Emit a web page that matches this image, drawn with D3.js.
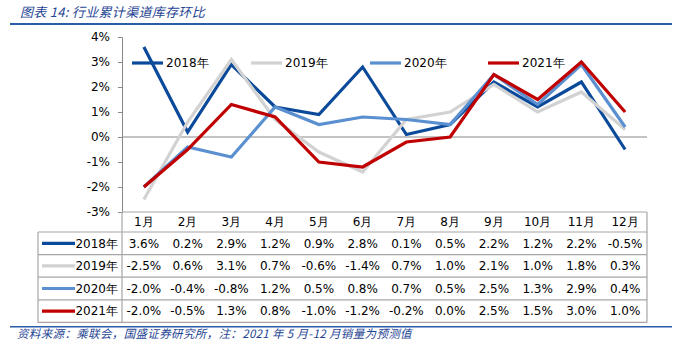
<!DOCTYPE html>
<html>
<head>
<meta charset="utf-8">
<script src="https://cdn.jsdelivr.net/npm/d3@7"></script>
<style>
  body { margin: 0; background: #fff; }
  svg { display: block; }
</style>
</head>
<body>
<div id="chart"></div>
<script>
const months = ["1月", "2月", "3月", "4月", "5月", "6月", "7月", "8月", "9月", "10月", "11月", "12月"];
const seriesNames = ["2018年", "2019年", "2020年", "2021年"];
const v2018 = [3.6, 0.2, 2.9, 1.2, 0.9, 2.8, 0.1, 0.5, 2.2, 1.2, 2.2, -0.5];
const v2019 = [-2.5, 0.6, 3.1, 0.7, -0.6, -1.4, 0.7, 1.0, 2.1, 1.0, 1.8, 0.3];
const v2020 = [-2.0, -0.4, -0.8, 1.2, 0.5, 0.8, 0.7, 0.5, 2.5, 1.3, 2.9, 0.4];
const v2021 = [-2.0, -0.5, 1.3, 0.8, -1.0, -1.2, -0.2, 0.0, 2.5, 1.5, 3.0, 1.0];
const yTicks = [4, 3, 2, 1, 0, -1, -2, -3];
const colors = ["#0b4a9a", "#d2d2d2", "#5a8fd0", "#c00000"];

const series = seriesNames.map((name, i) => ({
  name,
  values: [v2018, v2019, v2020, v2021][i],
  color: colors[i]
}));

const W = 678, H = 341;
const plot = { left: 122, right: 647, top: 37, bottom: 212 };
const navy = "#1f4594";
const numFont = "'DejaVu Sans', Verdana, sans-serif";

const svg = d3.select("#chart").append("svg")
  .attr("width", W)
  .attr("height", H);

// header + footer
svg.append("text")
  .attr("x", 20).attr("y", 17)
  .attr("fill", navy)
  .attr("font-family", "'Noto Sans CJK SC', sans-serif")
  .attr("font-style", "italic")
  .attr("font-size", 13)
  .attr("letter-spacing", 0.3)
  .text("图表 14:  行业累计渠道库存环比");
svg.append("rect").attr("x", 10).attr("y", 23).attr("width", 662).attr("height", 2).attr("fill", "#2a5da8");
svg.append("rect").attr("x", 10).attr("y", 326).attr("width", 662).attr("height", 1.5).attr("fill", "#2a5da8");
svg.append("text")
  .attr("x", 17).attr("y", 338)
  .attr("fill", navy)
  .attr("font-family", "'Noto Sans CJK SC', sans-serif")
  .attr("font-style", "italic")
  .attr("font-size", 11.5)
  .attr("letter-spacing", 0.35)
  .text("资料来源：乘联会，国盛证券研究所，注：2021 年 5 月-12 月销量为预测值");

const x = d3.scaleBand().domain(months).range([plot.left, plot.right]);
const y = d3.scaleLinear().domain([-3, 4]).range([plot.bottom, plot.top]);

// y axis
const yAxis = svg.append("g")
  .attr("transform", `translate(${plot.left},0)`)
  .call(d3.axisLeft(y).tickValues(yTicks).tickSize(4).tickPadding(8).tickFormat(d => d + "%"));
yAxis.select(".domain").attr("stroke", "#888");
yAxis.selectAll(".tick line").attr("stroke", "#888");
yAxis.selectAll("text")
  .attr("font-family", numFont)
  .attr("font-size", 12)
  .attr("fill", "#000");

// zero line
svg.append("line")
  .attr("x1", plot.left).attr("x2", plot.right)
  .attr("y1", y(0)).attr("y2", y(0))
  .attr("stroke", "#888").attr("stroke-width", 1);

const line = d3.line()
  .x((d, i) => x(months[i]) + x.bandwidth() / 2)
  .y(d => y(d));

svg.append("g")
  .selectAll("path")
  .data(series)
  .join("path")
  .attr("fill", "none")
  .attr("stroke", d => d.color)
  .attr("stroke-width", 3.2)
  .attr("stroke-linejoin", "miter")
  .attr("d", d => line(d.values));

// legend inside the plot
const legendX = [132, 251, 370, 488];
const legend = svg.append("g")
  .selectAll("g")
  .data(series)
  .join("g")
  .attr("transform", (d, i) => `translate(${legendX[i]},63)`);
legend.append("line")
  .attr("x1", 0).attr("x2", 31)
  .attr("stroke", d => d.color)
  .attr("stroke-width", 3.2);
legend.append("text")
  .attr("x", 34).attr("dy", "0.35em")
  .attr("font-family", numFont)
  .attr("font-size", 12)
  .text(d => d.name);

// data table under the axis
const tableLeft = 38;
const headH = 20, rowH = 22.6;
const rowY = i => plot.bottom + headH + i * rowH;
const grid = svg.append("g").attr("stroke", "#a6a6a6").attr("stroke-width", 1.2);
grid.append("line").attr("x1", plot.left).attr("x2", plot.right).attr("y1", plot.bottom).attr("y2", plot.bottom);
d3.range(series.length + 1).forEach(i => {
  grid.append("line").attr("x1", tableLeft).attr("x2", plot.right).attr("y1", rowY(i)).attr("y2", rowY(i));
});
grid.append("line").attr("x1", plot.left).attr("x2", plot.left).attr("y1", plot.bottom).attr("y2", rowY(series.length));
grid.append("line").attr("x1", plot.right).attr("x2", plot.right).attr("y1", plot.bottom).attr("y2", rowY(series.length));
grid.append("line").attr("x1", tableLeft).attr("x2", tableLeft).attr("y1", rowY(0)).attr("y2", rowY(series.length));

svg.append("g")
  .selectAll("text")
  .data(months)
  .join("text")
  .attr("x", d => x(d) + x.bandwidth() / 2)
  .attr("y", plot.bottom + headH / 2)
  .attr("dy", "0.35em")
  .attr("text-anchor", "middle")
  .attr("font-family", numFont)
  .attr("font-size", 12)
  .text(d => d);

const rows = svg.append("g")
  .selectAll("g")
  .data(series)
  .join("g")
  .attr("transform", (d, i) => `translate(0,${rowY(i) + rowH / 2})`);
rows.append("line")
  .attr("x1", 42).attr("x2", 75)
  .attr("stroke", d => d.color)
  .attr("stroke-width", 3.2);
rows.append("text")
  .attr("x", 118).attr("dy", "0.35em")
  .attr("text-anchor", "end")
  .attr("font-family", numFont)
  .attr("font-size", 12)
  .text(d => d.name);
rows.selectAll("text.val")
  .data(d => d.values)
  .join("text")
  .attr("class", "val")
  .attr("x", (d, i) => x(months[i]) + x.bandwidth() / 2)
  .attr("dy", "0.35em")
  .attr("text-anchor", "middle")
  .attr("font-family", numFont)
  .attr("font-size", 12)
  .text(d => d.toFixed(1) + "%");
</script>
</body>
</html>
